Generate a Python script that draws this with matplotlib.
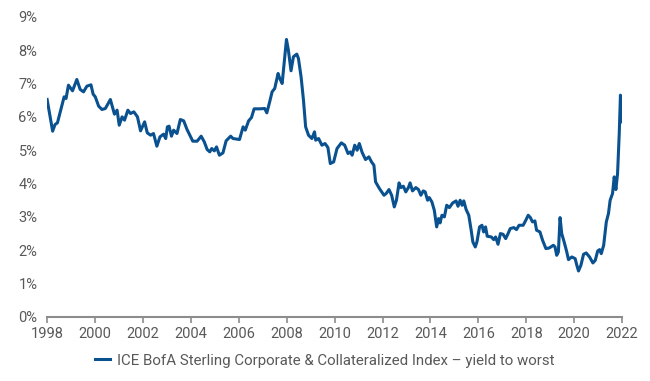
import matplotlib
matplotlib.use("Agg")
import matplotlib.pyplot as plt
from matplotlib.ticker import PercentFormatter

# decimal year and yield to worst (%)
years = [
    1998.00, 1998.23, 1998.33, 1998.43, 1998.71, 1998.79, 1998.89, 1999.06, 1999.24, 1999.38,
    1999.52, 1999.66, 1999.83, 1999.92, 2000.01, 2000.15, 2000.29, 2000.43, 2000.64, 2000.81,
    2000.92, 2001.01, 2001.13, 2001.23, 2001.37, 2001.48, 2001.62, 2001.77, 2001.90, 2002.07,
    2002.18, 2002.32, 2002.44, 2002.58, 2002.71, 2002.86, 2002.95, 2003.02, 2003.09, 2003.19,
    2003.28, 2003.42, 2003.56, 2003.70, 2003.84, 2003.98, 2004.08, 2004.26, 2004.43, 2004.56,
    2004.68, 2004.79, 2004.87, 2004.98, 2005.07, 2005.19, 2005.34, 2005.47, 2005.66, 2005.76,
    2006.03, 2006.18, 2006.27, 2006.41, 2006.53, 2006.64, 2006.87, 2007.08, 2007.17, 2007.29,
    2007.39, 2007.50, 2007.64, 2007.71, 2007.81, 2007.99, 2008.07, 2008.18, 2008.28, 2008.42,
    2008.49, 2008.60, 2008.70, 2008.79, 2008.91, 2009.05, 2009.16, 2009.21, 2009.33, 2009.47,
    2009.60, 2009.72, 2009.82, 2009.96, 2010.10, 2010.28, 2010.42, 2010.56, 2010.66, 2010.73,
    2010.84, 2010.94, 2011.03, 2011.15, 2011.29, 2011.43, 2011.54, 2011.64, 2011.71, 2011.87,
    2012.06, 2012.15, 2012.27, 2012.38, 2012.49, 2012.58, 2012.69, 2012.77, 2012.87, 2012.97,
    2013.08, 2013.15, 2013.25, 2013.39, 2013.50, 2013.60, 2013.70, 2013.78, 2013.88, 2013.95,
    2014.06, 2014.16, 2014.26, 2014.34, 2014.40, 2014.48, 2014.58, 2014.68, 2014.79, 2014.93,
    2015.07, 2015.15, 2015.24, 2015.32, 2015.39, 2015.49, 2015.60, 2015.70, 2015.77, 2015.87,
    2015.94, 2016.05, 2016.15, 2016.22, 2016.30, 2016.37, 2016.54, 2016.64, 2016.72, 2016.82,
    2016.92, 2017.03, 2017.14, 2017.24, 2017.33, 2017.48, 2017.59, 2017.70, 2017.87, 2017.98,
    2018.08, 2018.17, 2018.26, 2018.36, 2018.43, 2018.57, 2018.68, 2018.82, 2018.96, 2019.13,
    2019.20, 2019.27, 2019.34, 2019.41, 2019.48, 2019.58, 2019.69, 2019.76, 2019.90, 2020.04,
    2020.11, 2020.18, 2020.28, 2020.39, 2020.50, 2020.64, 2020.78, 2020.88, 2020.98, 2021.06,
    2021.13, 2021.23, 2021.34, 2021.43, 2021.50, 2021.60, 2021.67, 2021.74, 2021.81, 2021.88,
    2021.93, 2021.97, 2022.00,
]
yields = [
    6.52, 5.57, 5.77, 5.82, 6.60, 6.55, 6.95, 6.78, 7.12, 6.82,
    6.75, 6.92, 6.96, 6.68, 6.60, 6.32, 6.22, 6.25, 6.52, 6.08,
    6.20, 5.75, 6.00, 5.90, 6.20, 6.10, 6.15, 6.00, 5.58, 5.85,
    5.52, 5.45, 5.50, 5.12, 5.40, 5.48, 5.35, 5.70, 5.72, 5.42,
    5.60, 5.50, 5.92, 5.88, 5.62, 5.42, 5.27, 5.27, 5.42, 5.25,
    5.02, 4.95, 5.05, 4.98, 5.10, 4.85, 4.92, 5.28, 5.42, 5.35,
    5.32, 5.70, 5.60, 5.88, 5.98, 6.24, 6.24, 6.25, 6.12, 6.45,
    6.75, 6.85, 7.30, 7.15, 7.00, 8.32, 8.00, 7.38, 7.80, 7.88,
    7.75, 7.20, 6.50, 5.70, 5.45, 5.35, 5.55, 5.30, 5.35, 5.15,
    5.20, 5.08, 4.60, 4.65, 5.05, 5.22, 5.15, 4.90, 4.95, 4.85,
    5.15, 5.00, 5.20, 4.93, 4.72, 4.80, 4.65, 4.55, 4.05, 3.85,
    3.65, 3.70, 3.82, 3.65, 3.30, 3.50, 4.02, 3.88, 3.92, 3.75,
    3.88, 4.02, 3.78, 3.88, 3.82, 3.65, 3.78, 3.75, 3.50, 3.58,
    3.45, 3.20, 2.70, 2.95, 2.82, 3.05, 3.00, 3.35, 3.28, 3.42,
    3.48, 3.32, 3.50, 3.35, 3.48, 3.22, 3.05, 2.60, 2.25, 2.10,
    2.25, 2.70, 2.75, 2.55, 2.70, 2.42, 2.40, 2.32, 2.40, 2.18,
    2.50, 2.48, 2.35, 2.50, 2.65, 2.68, 2.62, 2.75, 2.75, 2.90,
    3.05, 2.98, 2.85, 2.88, 2.60, 2.55, 2.30, 2.05, 2.07, 2.15,
    2.10, 1.85, 1.95, 2.98, 2.50, 2.25, 1.95, 1.72, 1.80, 1.75,
    1.55, 1.38, 1.55, 1.88, 1.92, 1.80, 1.62, 1.70, 1.98, 2.02,
    1.90, 2.15, 2.85, 3.10, 3.50, 3.70, 4.20, 3.82, 4.30, 5.50,
    6.65, 6.35, 5.85,
]
x_ticks = list(range(1998, 2023, 2))
y_ticks = list(range(0, 10))
series_label = "ICE BofA Sterling Corporate & Collateralized Index \u2013 yield to worst"

line_color = "#0a5190"
text_color = "#595959"
axis_color = "#8c8c8c"

plt.rcParams["font.family"] = ["Roboto", "DejaVu Sans"]

fig = plt.figure(figsize=(6.5, 3.81), dpi=100)
ax = fig.add_axes([0.0725, 0.168, 0.8846, 0.788])

ax.plot(years, yields, color=line_color, lw=2.2, solid_joinstyle="round", label=series_label)

ax.set_xlim(1998, 2022)
ax.set_ylim(0, 9)
ax.set_xticks(x_ticks)
ax.set_yticks(y_ticks)
ax.yaxis.set_major_formatter(PercentFormatter(decimals=0))

for s in ["top", "right", "left"]:
    ax.spines[s].set_visible(False)
ax.spines["bottom"].set_color(axis_color)
ax.spines["bottom"].set_linewidth(1.5)

ax.tick_params(axis="x", length=4, width=1.2, color=axis_color, colors=text_color,
               labelsize=10.5, pad=3)
ax.tick_params(axis="y", length=0, colors=text_color, labelsize=10.5, pad=7)

fig.legend(loc="lower center", bbox_to_anchor=(0.5, 0.0), frameon=False, fontsize=10.8,
           handlelength=1.0, handletextpad=0.45, labelcolor=text_color)

fig.savefig("out.png", dpi=100)
